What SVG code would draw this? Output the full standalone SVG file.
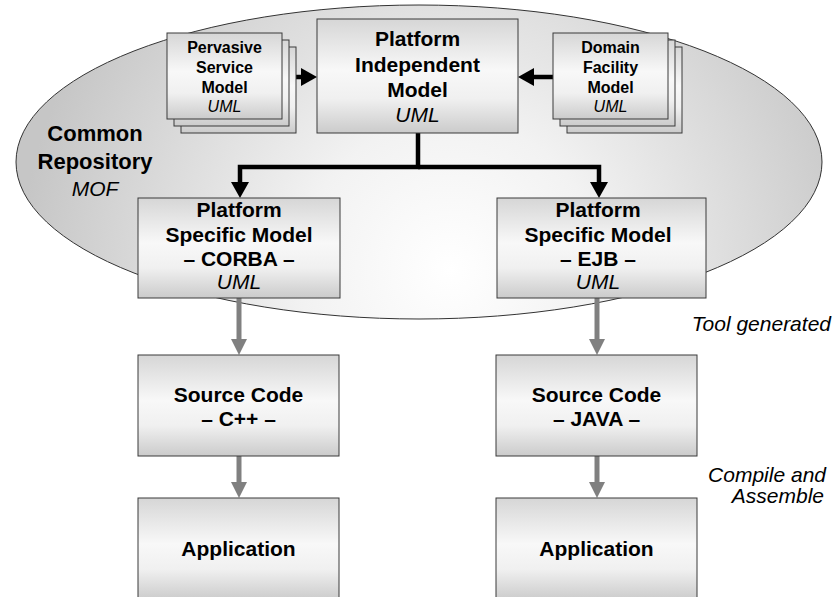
<svg xmlns="http://www.w3.org/2000/svg" width="836" height="597" viewBox="0 0 836 597">
  <defs>
    <radialGradient id="ellGrad" gradientUnits="userSpaceOnUse" cx="450" cy="270" r="430">
      <stop offset="0" stop-color="#ffffff"/>
      <stop offset="0.35" stop-color="#f2f2f2"/>
      <stop offset="1" stop-color="#c6c6c6"/>
    </radialGradient>
    <linearGradient id="boxGrad" x1="0" y1="0" x2="0" y2="1">
      <stop offset="0" stop-color="#d6d6d6"/>
      <stop offset="0.45" stop-color="#f8f8f8"/>
      <stop offset="0.7" stop-color="#f0f0f0"/>
      <stop offset="1" stop-color="#cbcbcb"/>
    </linearGradient>
    <marker id="blackHead" markerUnits="userSpaceOnUse" markerWidth="16" markerHeight="18" viewBox="0 0 16 18" refX="0" refY="9" orient="auto">
      <path d="M0,0 L16,9 L0,18 z" fill="#000"/>
    </marker>
    <marker id="grayHead" markerUnits="userSpaceOnUse" markerWidth="16" markerHeight="16" viewBox="0 0 16 16" refX="0" refY="8" orient="auto">
      <path d="M0,0 L16,8 L0,16 z" fill="#808080"/>
    </marker>
  </defs>
  <style>
    .box { fill: url(#boxGrad); stroke: #3a3a3a; stroke-width: 1; }
    .t { font-family: "Liberation Sans", Arial, sans-serif; fill: #000; text-anchor: middle; }
    .b { font-weight: bold; }
    .i { font-style: italic; }
    .s16 { font-size: 16px; }
    .s21 { font-size: 21px; }
    .s22 { font-size: 22px; }
    .r { text-anchor: end; }
    .blk { fill: none; stroke: #000; stroke-width: 4.5; marker-end: url(#blackHead); }
    .gry { fill: none; stroke: #808080; stroke-width: 5; marker-end: url(#grayHead); }
  </style>

  <g id="common-repository">
    <ellipse cx="419" cy="162" rx="403" ry="157" fill="url(#ellGrad)" stroke="#333" stroke-width="1"/>
    <text class="t b s22" x="95" y="141">Common</text>
    <text class="t b s22" x="95" y="169">Repository</text>
    <text class="t i s21" x="95" y="196">MOF</text>
  </g>

  <g id="connectors">
    <path class="blk" d="M282,77 H301"/>
    <path class="blk" d="M553,77 H534"/>
    <path class="blk" d="M418,133 V167 H240 V182" stroke-linejoin="miter"/>
    <path class="blk" d="M418,167 H599 V182"/>
    <path class="gry" d="M239,298 V339"/>
    <path class="gry" d="M239,456 V482"/>
    <path class="gry" d="M597,298 V339"/>
    <path class="gry" d="M597,456 V482"/>
  </g>

  <g id="pervasive-service-model">
    <rect class="box" x="181" y="47" width="115" height="86"/>
    <rect class="box" x="174" y="40" width="115" height="86"/>
    <rect class="box" x="167" y="33" width="115" height="86"/>
    <text class="t b s16" x="224.5" y="53">Pervasive</text>
    <text class="t b s16" x="224.5" y="73">Service</text>
    <text class="t b s16" x="224.5" y="93">Model</text>
    <text class="t i s16" x="224.5" y="112">UML</text>
  </g>

  <g id="domain-facility-model">
    <rect class="box" x="567" y="47" width="115" height="86"/>
    <rect class="box" x="560" y="40" width="115" height="86"/>
    <rect class="box" x="553" y="33" width="115" height="86"/>
    <text class="t b s16" x="610.5" y="53">Domain</text>
    <text class="t b s16" x="610.5" y="73">Facility</text>
    <text class="t b s16" x="610.5" y="93">Model</text>
    <text class="t i s16" x="610.5" y="112">UML</text>
  </g>

  <g id="platform-independent-model">
    <rect class="box" x="317" y="19" width="201" height="114"/>
    <text class="t b s21" x="417.5" y="46">Platform</text>
    <text class="t b s21" x="417.5" y="72">Independent</text>
    <text class="t b s21" x="417.5" y="97">Model</text>
    <text class="t i s21" x="417.5" y="122">UML</text>
  </g>

  <g id="psm-corba">
    <rect class="box" x="138" y="198" width="202" height="100"/>
    <text class="t b s21" x="239" y="217">Platform</text>
    <text class="t b s21" x="239" y="242">Specific Model</text>
    <text class="t b s21" x="239" y="266">– CORBA –</text>
    <text class="t i s21" x="239" y="289">UML</text>
  </g>

  <g id="psm-ejb">
    <rect class="box" x="497" y="198" width="209" height="100"/>
    <text class="t b s21" x="598" y="217">Platform</text>
    <text class="t b s21" x="598" y="242">Specific Model</text>
    <text class="t b s21" x="598" y="266">– EJB –</text>
    <text class="t i s21" x="598" y="289">UML</text>
  </g>

  <g id="source-cpp">
    <rect class="box" x="138" y="355" width="201" height="101"/>
    <text class="t b s21" x="238.5" y="402">Source Code</text>
    <text class="t b s21" x="238.5" y="426">– C++ –</text>
  </g>

  <g id="source-java">
    <rect class="box" x="496" y="355" width="201" height="101"/>
    <text class="t b s21" x="596.5" y="402">Source Code</text>
    <text class="t b s21" x="596.5" y="426">– JAVA –</text>
  </g>

  <g id="application-cpp">
    <rect class="box" x="138" y="498" width="201" height="102"/>
    <text class="t b s21" x="238.5" y="556">Application</text>
  </g>

  <g id="application-java">
    <rect class="box" x="496" y="498" width="201" height="102"/>
    <text class="t b s21" x="596.5" y="556">Application</text>
  </g>

  <g id="labels">
    <text class="t i s21 r" x="831" y="331">Tool generated</text>
    <text class="t i s21 r" x="826" y="482">Compile and</text>
    <text class="t i s21 r" x="824" y="503">Assemble</text>
  </g>
</svg>
